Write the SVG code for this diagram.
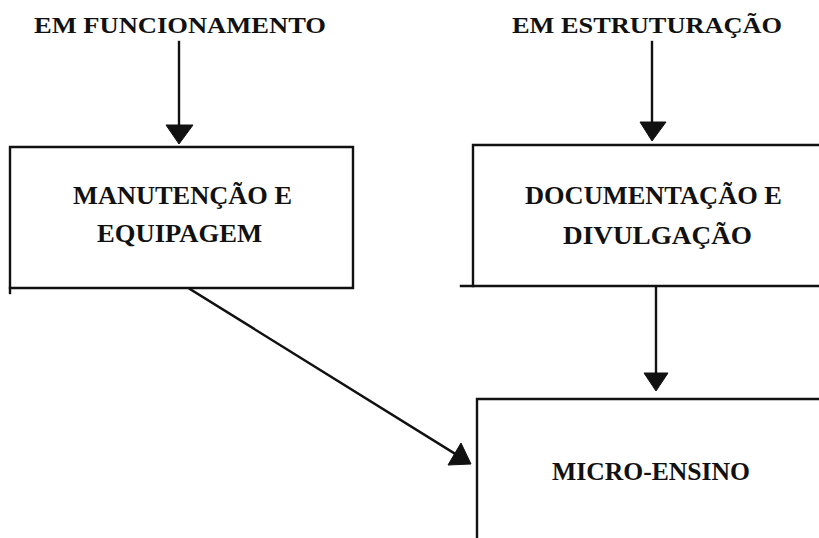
<svg xmlns="http://www.w3.org/2000/svg" width="819" height="538" viewBox="0 0 819 538">
<style>
.t{font-family:"Liberation Serif","Times New Roman",serif;font-weight:bold;fill:#111;}
.ln{stroke:#111;stroke-width:2.4;fill:none;stroke-linecap:square;}
.hd{fill:#111;stroke:#111;stroke-width:1;stroke-linejoin:round;}
</style>
<rect width="819" height="538" fill="#fff"/>
<g id="label-funcionamento">
<text class="t" x="34" y="33" font-size="23" textLength="292" lengthAdjust="spacingAndGlyphs">EM FUNCIONAMENTO</text>
</g>
<g id="label-estruturacao">
<text class="t" x="512" y="33" font-size="23" textLength="270" lengthAdjust="spacingAndGlyphs">EM ESTRUTURAÇÃO</text>
</g>
<g id="node-manutencao">
<path class="ln" d="M10,147 H353 V288 H10 Z"/>
<line class="ln" x1="10" y1="288" x2="10" y2="293" stroke-width="3"/>
<text class="t" x="73" y="204" font-size="25" textLength="219" lengthAdjust="spacingAndGlyphs">MANUTENÇÃO E</text>
<text class="t" x="97" y="242" font-size="25" textLength="165" lengthAdjust="spacingAndGlyphs">EQUIPAGEM</text>
</g>
<g id="node-documentacao">
<path class="ln" d="M819,145 H473 V286"/>
<line class="ln" x1="461" y1="286" x2="819" y2="286"/>
<text class="t" x="525" y="204" font-size="25" textLength="257" lengthAdjust="spacingAndGlyphs">DOCUMENTAÇÃO E</text>
<text class="t" x="563" y="244" font-size="25" textLength="189" lengthAdjust="spacingAndGlyphs">DIVULGAÇÃO</text>
</g>
<g id="node-microensino">
<path class="ln" d="M819,399 H477 V538"/>
<text class="t" x="552" y="480" font-size="25" textLength="198" lengthAdjust="spacingAndGlyphs">MICRO-ENSINO</text>
</g>
<g id="connectors">
<line class="ln" x1="179" y1="42" x2="179" y2="128"/>
<polygon class="hd" points="166,125 193,125 179,144"/>
<line class="ln" x1="652" y1="42" x2="652" y2="124"/>
<polygon class="hd" points="640,122 666,122 652,141"/>
<line class="ln" x1="656" y1="287" x2="656" y2="375"/>
<polygon class="hd" points="644,373 668,373 656,391"/>
<line class="ln" x1="190" y1="289" x2="457" y2="455"/>
<polygon class="hd" points="448,465 461,443 471,464"/>
</g>
</svg>
